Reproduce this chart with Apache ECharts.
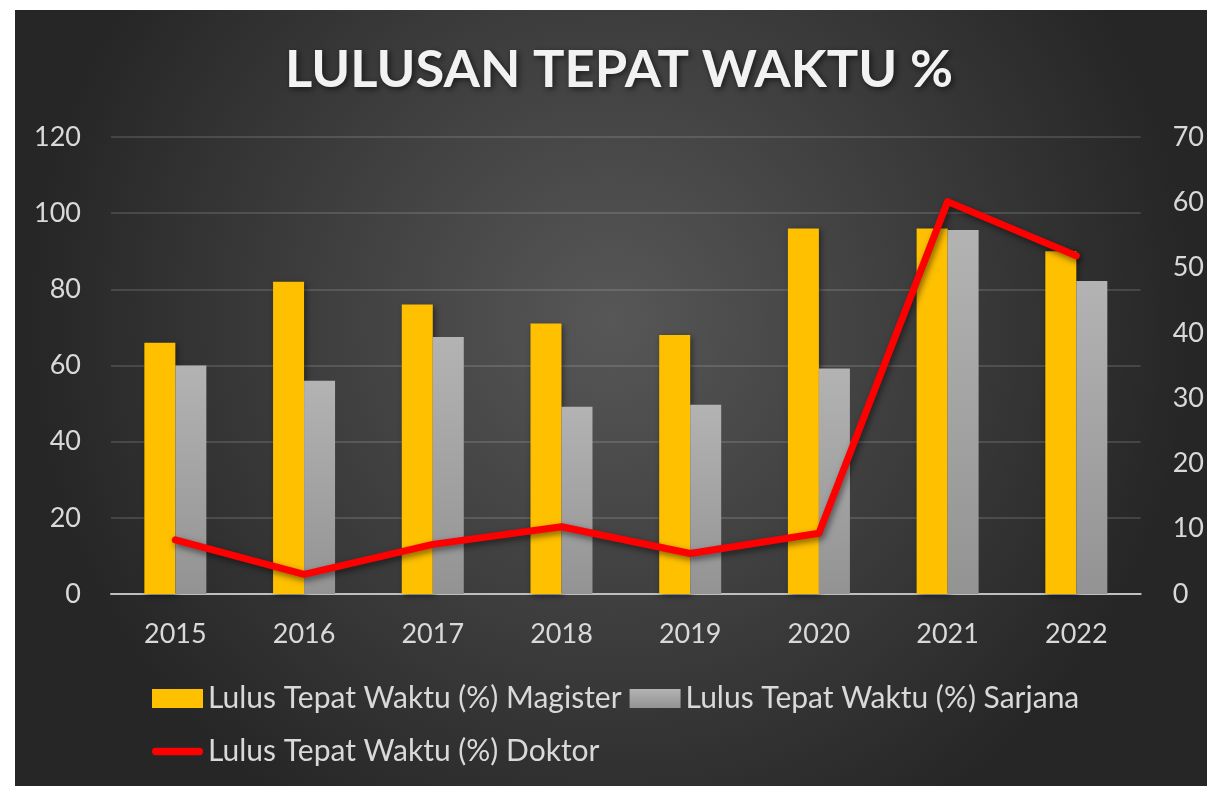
<!DOCTYPE html>
<html>
<head>
<meta charset="utf-8">
<script src="https://cdn.jsdelivr.net/npm/echarts@6/dist/echarts.min.js"></script>
<style>
  html, body { margin: 0; padding: 0; background: #ffffff; }
  #chart {
    position: absolute;
    left: 15px;
    top: 10px;
    width: 1192px;
    height: 776px;
  }
</style>
</head>
<body>
<div id="chart"></div>
<script>
  // data
  const years = ['2015', '2016', '2017', '2018', '2019', '2020', '2021', '2022'];
  const magister = [66, 82, 76, 71, 68, 96, 96, 90];
  const sarjana = [60, 56, 67.5, 49.2, 49.7, 59.2, 95.6, 82.2];
  const doktor = [8.3, 3, 7.6, 10.3, 6.2, 9.3, 60.1, 51.8];

  const chart = echarts.init(document.getElementById('chart'));

  const labelColor = '#d9d9d9';
  const font = 'Lato, "Open Sans", sans-serif';

  const option = {
    backgroundColor: {
      type: 'radial', x: 0.5, y: 0.4, r: 0.75,
      colorStops: [
        { offset: 0, color: '#575757' },
        { offset: 1, color: '#262626' }
      ]
    },
    textStyle: { fontFamily: font },
    title: {
      text: 'LULUSAN TEPAT WAKTU %',
      left: 265,
      top: 29,
      textStyle: {
        color: '#f2f2f2',
        fontSize: 52.5,
        fontWeight: 'bold',
        fontFamily: font,
        textShadowColor: 'rgba(0,0,0,0.6)',
        textShadowBlur: 6,
        textShadowOffsetX: 2,
        textShadowOffsetY: 2
      }
    },
    grid: { left: 96, right: 62, top: 127, bottom: 192, containLabel: false },
    legend: {
      left: 137,
      top: 666,
      width: 950,
      padding: 0,
      itemWidth: 51,
      itemHeight: 19,
      itemGap: 8,
      textStyle: { color: labelColor, fontSize: 30, lineHeight: 45, fontFamily: font },
      data: [
        { name: 'Lulus Tepat Waktu (%) Magister', icon: 'rect' },
        { name: 'Lulus Tepat Waktu (%) Sarjana', icon: 'rect' },
        {
          name: 'Lulus Tepat Waktu (%) Doktor',
          icon: 'path://M4,0 H52 A4,4 0 0 1 52,8 H4 A4,4 0 0 1 4,0 Z',
          itemStyle: { color: '#ff0000' }
        }
      ]
    },
    xAxis: {
      type: 'category',
      data: years,
      axisTick: { show: false },
      axisLine: { lineStyle: { color: '#bfbfbf', width: 2 } },
      axisLabel: { color: labelColor, fontSize: 27, margin: 27 }
    },
    yAxis: [
      {
        type: 'value', min: 0, max: 120, interval: 20,
        axisLabel: { color: labelColor, fontSize: 27, margin: 30 },
        splitLine: { lineStyle: { color: 'rgba(255,255,255,0.13)', width: 2 } },
        axisLine: { show: false }
      },
      {
        type: 'value', min: 0, max: 70, interval: 10,
        axisLabel: { color: labelColor, fontSize: 27, margin: 32 },
        splitLine: { show: false },
        axisLine: { show: false }
      }
    ],
    series: [
      {
        name: 'Lulus Tepat Waktu (%) Magister',
        type: 'bar',
        data: magister,
        barWidth: 31,
        barGap: '0%',
        itemStyle: {
          color: '#ffc000',
          shadowColor: 'rgba(0,0,0,0.45)',
          shadowBlur: 6,
          shadowOffsetX: 2,
          shadowOffsetY: 2
        }
      },
      {
        name: 'Lulus Tepat Waktu (%) Sarjana',
        type: 'bar',
        data: sarjana,
        barWidth: 31,
        itemStyle: {
          color: {
            type: 'linear', x: 0, y: 0, x2: 0, y2: 1,
            colorStops: [
              { offset: 0, color: '#b3b3b3' },
              { offset: 1, color: '#939393' }
            ]
          },
          shadowColor: 'rgba(0,0,0,0.45)',
          shadowBlur: 6,
          shadowOffsetX: 2,
          shadowOffsetY: 2
        }
      },
      {
        name: 'Lulus Tepat Waktu (%) Doktor',
        type: 'line',
        yAxisIndex: 1,
        data: doktor,
        symbol: 'none',
        lineStyle: {
          color: '#ff0000',
          width: 7,
          cap: 'round',
          join: 'round',
          shadowColor: 'rgba(0,0,0,0.5)',
          shadowBlur: 6,
          shadowOffsetX: 2,
          shadowOffsetY: 3
        },
        itemStyle: { color: '#ff0000' }
      }
    ]
  };

  chart.setOption(option);

  window.addEventListener('resize', () => {
    chart.resize();
  });
</script>
</body>
</html>
